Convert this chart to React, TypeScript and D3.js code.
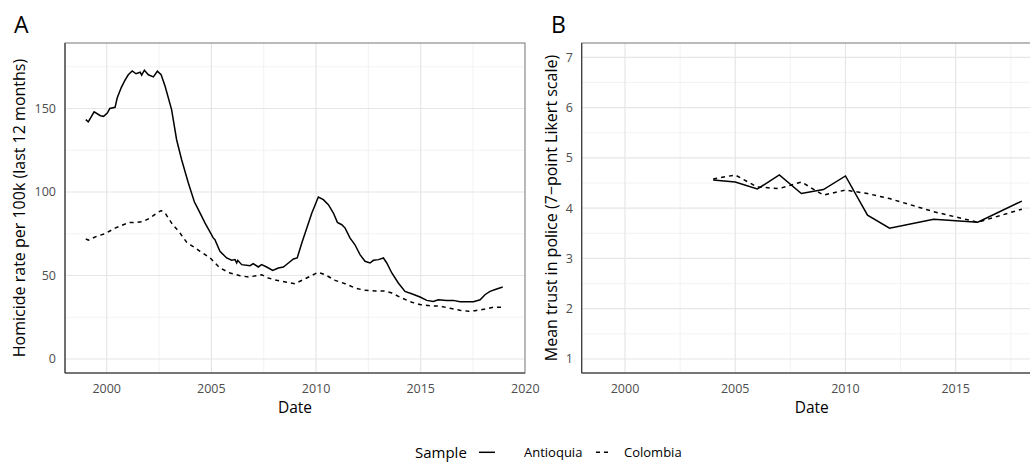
import React, { useRef, useEffect } from "react";
import * as d3 from "d3";

// Panel A: homicide rate per 100k (rolling 12 months), decimal years
const antioquiaYears = [1999.0, 1999.12, 1999.4, 1999.7, 1999.85, 2000.03, 2000.15, 2000.4, 2000.5, 2000.7, 2000.87, 2001.03, 2001.22, 2001.4, 2001.6, 2001.67, 2001.8, 2001.99, 2002.23, 2002.42, 2002.6, 2002.79, 2003.1, 2003.34, 2003.58, 2003.9, 2004.19, 2004.3, 2004.7, 2005.09, 2005.17, 2005.41, 2005.73, 2005.97, 2006.13, 2006.21, 2006.26, 2006.45, 2006.85, 2007.0, 2007.24, 2007.4, 2007.64, 2007.93, 2008.2, 2008.44, 2008.68, 2008.92, 2009.1, 2009.32, 2009.56, 2009.8, 2010.11, 2010.35, 2010.59, 2010.83, 2011.02, 2011.23, 2011.39, 2011.62, 2011.86, 2012.1, 2012.34, 2012.58, 2012.74, 2012.98, 2013.22, 2013.38, 2013.62, 2013.93, 2014.25, 2014.57, 2014.97, 2015.29, 2015.6, 2015.84, 2016.24, 2016.56, 2016.88, 2017.2, 2017.52, 2017.84, 2018.07, 2018.31, 2018.63, 2018.92];
const antioquiaRate = [143.3, 142, 148, 145.7, 145.3, 147.3, 150, 150.7, 156.3, 162.7, 166.8, 170.2, 172.5, 170.8, 171.7, 170, 172.9, 170.2, 168.9, 172.3, 170.2, 163.3, 149.3, 131.3, 119.3, 105.4, 94, 91.4, 81.4, 72.5, 71.4, 64.5, 60.5, 59.1, 59.5, 57.5, 59.1, 56.5, 55.9, 57.1, 55.1, 56.5, 55.1, 53.1, 54.5, 55.1, 57.5, 59.9, 60.5, 69.5, 78.4, 87.4, 97, 95.4, 92.4, 87.4, 81.8, 80.4, 78.4, 72.5, 68.4, 62.5, 58.5, 57.5, 59.1, 59.5, 60.5, 57.5, 51.5, 45.5, 40.5, 39.1, 37.1, 35.1, 34.5, 35.5, 35.1, 35.1, 34.3, 34.3, 34.3, 35.5, 38.5, 40.5, 41.9, 43.1];

const colombiaYears = [1999.0, 1999.12, 1999.52, 1999.92, 2000.4, 2000.79, 2001.11, 2001.43, 2001.75, 2002.07, 2002.39, 2002.6, 2002.79, 2003.1, 2003.5, 2003.82, 2004.0, 2004.46, 2004.94, 2005.41, 2005.89, 2006.37, 2006.77, 2007.17, 2007.4, 2007.72, 2008.12, 2008.6, 2009.0, 2009.47, 2010.1, 2010.43, 2010.91, 2011.39, 2011.86, 2012.34, 2012.82, 2013.3, 2013.62, 2014.1, 2014.57, 2015.0, 2015.45, 2015.92, 2016.4, 2016.88, 2017.28, 2017.6, 2018.07, 2018.47, 2018.88];
const colombiaRate = [71.9, 71.1, 73.5, 75, 78.4, 80.4, 81.8, 81.8, 82.4, 84.4, 87.4, 88.8, 87.4, 81.4, 75.4, 69.9, 68.4, 64.5, 60.5, 54.5, 51.5, 49.9, 49.1, 49.9, 50.5, 48.5, 47.1, 45.9, 45.1, 48, 51.9, 50.5, 47.1, 45.1, 42.5, 41.1, 40.7, 40.7, 39.5, 36.5, 34, 32.5, 31.9, 31.6, 30.4, 29.2, 28.6, 28.9, 29.9, 31, 31];

// Panel B: mean trust in police (survey waves)
const antioquiaWaves = [2004, 2005, 2006, 2007, 2008, 2009, 2010, 2011, 2012, 2014, 2016, 2018];
const antioquiaTrust = [4.56, 4.52, 4.38, 4.66, 4.29, 4.37, 4.64, 3.86, 3.6, 3.78, 3.72, 4.14];
const colombiaWaves = [2004, 2005, 2006, 2007, 2008, 2009, 2010, 2011, 2012, 2014, 2016, 2018];
const colombiaTrust = [4.58, 4.66, 4.42, 4.39, 4.52, 4.26, 4.36, 4.29, 4.19, 3.93, 3.72, 3.98];

const xTicks = [2000, 2005, 2010, 2015, 2020];
const xMinor = [2002.5, 2007.5, 2012.5, 2017.5];
const rateTicks = [0, 50, 100, 150];
const rateMinor = [25, 75, 125, 175];
const trustTicks = [1, 2, 3, 4, 5, 6, 7];
const trustMinor = [1.5, 2.5, 3.5, 4.5, 5.5, 6.5];

const seriesNames = ["Antioquia", "Colombia"];
const dashes = ["none", "4,4"];

const FONT = "'Open Sans', sans-serif";

const App = () => {
  const ref = useRef<SVGSVGElement>(null);

  useEffect(() => {
    const svg = d3.select(ref.current);
    svg.selectAll("*").remove();

    const drawPanel = (opts: any) => {
      const { left, right, top, bottom, x, y, yTicks, yMinor, xMaj, xMin, series, letter, yTitle, titleX, tickRight } = opts;
      const g = svg.append("g");

      const clipId = "clip" + letter;
      svg.append("clipPath").attr("id", clipId)
        .append("rect").attr("x", left).attr("y", top).attr("width", right - left).attr("height", bottom - top);

      const grid = g.append("g").attr("clip-path", `url(#${clipId})`);
      grid.selectAll(".ymin").data(yMinor).join("line")
        .attr("x1", left).attr("x2", right).attr("y1", (d: number) => y(d)).attr("y2", (d: number) => y(d))
        .attr("stroke", "#ebebeb").attr("stroke-width", 0.6);
      grid.selectAll(".xmin").data(xMin).join("line")
        .attr("y1", top).attr("y2", bottom).attr("x1", (d: number) => x(d)).attr("x2", (d: number) => x(d))
        .attr("stroke", "#ebebeb").attr("stroke-width", 0.6);
      grid.selectAll(".ymaj").data(yTicks).join("line")
        .attr("x1", left).attr("x2", right).attr("y1", (d: number) => y(d)).attr("y2", (d: number) => y(d))
        .attr("stroke", "#e6e6e6").attr("stroke-width", 1.2);
      grid.selectAll(".xmaj").data(xMaj).join("line")
        .attr("y1", top).attr("y2", bottom).attr("x1", (d: number) => x(d)).attr("x2", (d: number) => x(d))
        .attr("stroke", "#e6e6e6").attr("stroke-width", 1.2);

      const line = d3.line<[number, number]>().x(d => x(d[0])).y(d => y(d[1]));
      series.forEach((s: any, i: number) => {
        const pts = s.years.map((yr: number, k: number) => [yr, s.values[k]] as [number, number]);
        grid.append("path").attr("d", line(pts)).attr("fill", "none")
          .attr("stroke", "black").attr("stroke-width", 1.5)
          .attr("stroke-dasharray", dashes[i]);
      });

      g.append("rect").attr("x", left).attr("y", top).attr("width", right - left).attr("height", bottom - top)
        .attr("fill", "none").attr("stroke", "#777").attr("stroke-width", 1);
      g.append("line").attr("x1", left).attr("x2", left).attr("y1", top).attr("y2", bottom).attr("stroke", "#333").attr("stroke-width", 1.1);
      g.append("line").attr("x1", left).attr("x2", right).attr("y1", bottom).attr("y2", bottom).attr("stroke", "#333").attr("stroke-width", 1.1);

      g.selectAll(".ytl").data(yTicks).join("text")
        .attr("x", tickRight).attr("y", (d: number) => y(d)).attr("dy", "0.35em")
        .attr("text-anchor", "end").attr("font-family", FONT).attr("font-size", 12.5).attr("fill", "#4d4d4d")
        .text((d: number) => d);
      g.selectAll(".xtl").data(xMaj.filter((d: number) => x(d) + 16 < 1030)).join("text")
        .attr("x", (d: number) => x(d)).attr("y", 393)
        .attr("text-anchor", "middle").attr("font-family", FONT).attr("font-size", 12.5).attr("fill", "#4d4d4d")
        .text((d: number) => d);

      g.append("text").attr("x", (left + right) / 2).attr("y", 413).attr("text-anchor", "middle")
        .attr("font-family", FONT).attr("font-size", 15.5).attr("fill", "black").text("Date");
      g.append("text").attr("transform", `translate(${titleX},${(top + bottom) / 2}) rotate(-90)`)
        .attr("text-anchor", "middle").attr("font-family", FONT).attr("font-size", 16).attr("fill", "black").text(yTitle);
      g.append("text").attr("x", opts.letterX).attr("y", 33)
        .attr("font-family", FONT).attr("font-size", 23).attr("fill", "black").text(letter);
    };

    const top = 43, bottom = 373;

    const xA = d3.scaleLinear().domain([2000, 2015]).range([106.7, 420.7]);
    const yA = d3.scaleLinear().domain([0, 150]).range([359, 108.5]);
    drawPanel({
      left: 65, right: 525, top, bottom, x: xA, y: yA,
      yTicks: rateTicks, yMinor: rateMinor, xMaj: xTicks, xMin: xMinor,
      series: [
        { years: antioquiaYears, values: antioquiaRate },
        { years: colombiaYears, values: colombiaRate },
      ],
      letter: "A", letterX: 14, yTitle: "Homicide rate per 100k (last 12 months)", titleX: 25, tickRight: 56,
    });

    const xB = d3.scaleLinear().domain([2000, 2015]).range([625, 955.7]);
    const yB = d3.scaleLinear().domain([1, 7]).range([359, 57.3]);
    drawPanel({
      left: 581.7, right: 1041.7, top, bottom, x: xB, y: yB,
      yTicks: trustTicks, yMinor: trustMinor, xMaj: xTicks, xMin: xMinor,
      series: [
        { years: antioquiaWaves, values: antioquiaTrust },
        { years: colombiaWaves, values: colombiaTrust },
      ],
      letter: "B", letterX: 551, yTitle: "Mean trust in police (7\u2212point Likert scale)", titleX: 557, tickRight: 573,
    });

    // legend
    const lg = svg.append("g");
    lg.append("text").attr("x", 415).attr("y", 458).attr("font-family", FONT).attr("font-size", 15).text("Sample");
    const keyX = [479, 596];
    const labX = [524, 624];
    seriesNames.forEach((name, i) => {
      lg.append("line").attr("x1", keyX[i]).attr("x2", keyX[i] + 16).attr("y1", 452.3).attr("y2", 452.3)
        .attr("stroke", "black").attr("stroke-width", 1.5).attr("stroke-dasharray", dashes[i]);
      lg.append("text").attr("x", labX[i]).attr("y", 457).attr("font-family", FONT).attr("font-size", 13).text(name);
    });
  }, []);

  return (
    <div>
      <svg ref={ref} width={1030} height={467} style={{ position: "absolute", left: 0, top: 0, background: "white" }}></svg>
    </div>
  );
};

export default App;
